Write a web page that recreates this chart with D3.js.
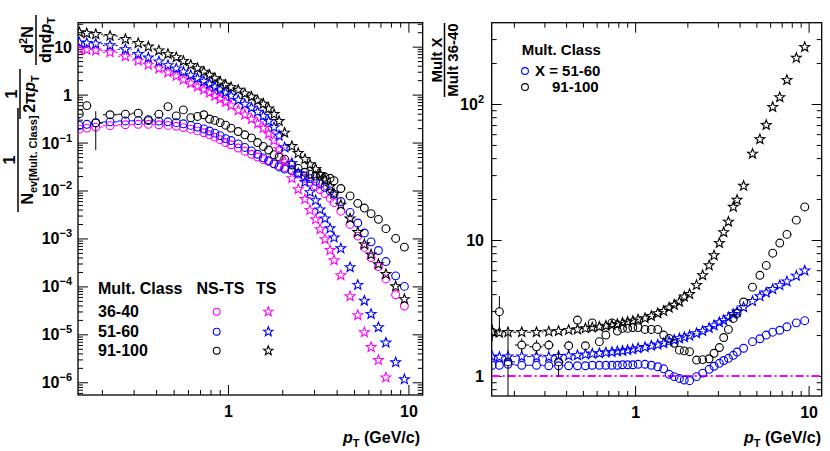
<!DOCTYPE html>
<html><head><meta charset="utf-8">
<script src="https://cdn.jsdelivr.net/npm/d3@7/dist/d3.min.js"></script>
<style>
html,body{margin:0;padding:0;background:#fff;}
svg{display:block;}
text{font-family:"Liberation Sans",Arial,Helvetica,sans-serif;font-weight:bold;fill:#000;}
</style></head><body>
<svg id="chart" width="830" height="451"></svg>
<script>
// ---------- data ----------
const pT = [0.15,0.165,0.185,0.222,0.27,0.318,0.362,0.414,0.465,0.517,0.566,0.622,0.678,0.735,0.79,0.846,0.905,0.97,1.04,1.14,1.24,1.35,1.46,1.57,1.68,1.8,1.92,2.06,2.26,2.45,2.67,2.85,3.06,3.24,3.45,3.68,3.87,4.22,4.75,5.24,5.7,6.21,6.82,7.5,8.5,9.5];

// left panel: spectra
const tsMult36_40 = [8.8,8.6,8.3,7.6,6.3,5.1,4.2,3.5,2.9,2.45,2.05,1.72,1.47,1.27,1.09,0.94,0.81,0.70,0.59,0.47,0.38,0.31,0.25,0.2,0.152,0.11,0.072,0.04,0.018,0.0106,6.6e-3,3.9e-3,2.5e-3,1.55e-3,9.6e-4,5.7e-4,3.5e-4,1.7e-4,6.2e-5,2.5e-5,1.1e-5,5.4e-6,2.9e-6,1.26e-6,null,null];
const tsMult51_60 = [12.2,11.9,11.5,10.6,8.8,7.0,5.9,4.9,4.1,3.5,3.0,2.53,2.19,1.9,1.66,1.44,1.26,1.1,0.94,0.77,0.63,0.53,0.435,0.358,0.28,0.208,0.139,0.079,0.037,0.0227,0.0149,9.2e-3,6.2e-3,4.0e-3,2.6e-3,1.62e-3,1.04e-3,6.2e-4,2.5e-4,1.07e-4,5e-5,2.65e-5,1.4e-5,6.7e-6,2.6e-6,1.15e-6];
const tsMult91_100 = [20,19,18.2,16.7,14.3,11.8,10,8.3,7.0,6.0,5.0,4.15,3.54,3.0,2.57,2.19,1.86,1.59,1.42,1.25,1.05,0.9,0.75,0.64,0.51,0.39,0.28,0.16,0.084,0.06,0.045,0.035,0.028,0.022,0.0168,0.012,8.5e-3,5e-3,2.6e-3,1.35e-3,7.5e-4,4.6e-4,2.9e-4,1.8e-4,1.0e-4,5.4e-5];
const nsMult36_40 = [0.19,0.2,0.21,0.225,0.235,0.24,0.24,0.235,0.228,0.218,0.205,0.19,0.175,0.16,0.145,0.13,0.115,0.1,0.09,0.077,0.066,0.057,0.05,0.044,0.04,0.036,0.033,0.03,0.026,0.022,0.018,0.015,0.0125,0.0105,8.6e-3,6.9e-3,5.6e-3,3.7e-3,1.96e-3,1.12e-3,6.5e-4,4.0e-4,2.6e-4,1.43e-4,6.7e-5,3.9e-5];
const nsMult51_60 = [0.228,0.24,0.256,0.27,0.282,0.286,0.286,0.28,0.271,0.26,0.246,0.228,0.21,0.192,0.174,0.157,0.139,0.121,0.11,0.094,0.079,0.067,0.057,0.048,0.042,0.036,0.031,0.028,0.026,0.023,0.02,0.0177,0.0155,0.0137,0.0116,9.8e-3,8.4e-3,5.9e-3,3.5e-3,2.1e-3,1.3e-3,8.5e-4,5.6e-4,3.3e-4,1.66e-4,1.0e-4];
const nsMult91_100 = [0.4,0.59,0.26,0.38,0.39,0.41,0.3,0.39,0.56,0.36,0.48,0.33,0.35,0.38,0.31,0.29,0.26,0.23,0.2,0.17,0.145,0.125,0.1,0.083,0.07,0.056,0.05,0.045,0.034,0.029,0.024,0.022,0.02,0.02,0.019,0.018,0.016,0.011,7.7e-3,5.4e-3,4.3e-3,3.3e-3,2.5e-3,1.6e-3,1.0e-3,6.6e-4];
const nsMult91_100Err = [0.08,0.1,0.19,0.05,0.05,0.04,0.05,0.04,0.04,0.03,0.03,0.02,0.02,0.02,0.01,0.01,0.01,0.01,0,0,0,0,0,0,0,0,0,0,0,0,0,0,0,0,0,0,0,0,0,0,0,0,0,0,0,0];

// right panel: ratios to multiplicity class 36-40
const ratioNS51_60 = [1.2,1.2,1.22,1.2,1.2,1.19,1.19,1.19,1.19,1.19,1.2,1.2,1.2,1.2,1.2,1.21,1.21,1.21,1.22,1.22,1.2,1.17,1.13,1.03,0.99,0.96,0.935,0.924,0.99,1.05,1.12,1.18,1.24,1.3,1.35,1.42,1.5,1.6,1.79,1.88,2.0,2.1,2.17,2.3,2.46,2.55];
const ratioTS51_60 = [1.39,1.38,1.39,1.39,1.39,1.38,1.4,1.41,1.42,1.44,1.46,1.47,1.49,1.5,1.52,1.53,1.55,1.57,1.6,1.63,1.67,1.7,1.74,1.79,1.84,1.89,1.93,1.98,2.06,2.14,2.25,2.35,2.48,2.57,2.7,2.85,2.97,3.2,3.55,3.85,4.1,4.35,4.65,4.95,5.45,5.95];
const ratioNS91_100 = [2.1,2.97,1.27,1.69,1.64,1.69,1.27,1.67,2.58,1.67,2.46,1.79,2.0,2.46,2.14,2.24,2.24,2.27,2.27,2.2,2.2,2.2,2.0,1.89,1.74,1.55,1.53,1.51,1.31,1.32,1.34,1.47,1.62,1.92,2.2,2.65,2.89,3.5,4.5,5.5,6.5,8,9.5,11,14,17.5];
const ratioNS91_100Err = [0.3,0.9,0.9,0.2,0.2,0.15,0.28,0.15,0.15,0.1,0.1,0.08,0.08,0.08,0.05,0.05,0.05,0.05,0,0,0,0,0,0,0,0,0,0,0,0,0,0,0,0,0,0,0,0,0,0,0,0,0,0,0,0];
const ratioTS91_100 = [2.12,2.08,2.1,2.1,2.1,2.12,2.14,2.18,2.2,2.24,2.27,2.3,2.34,2.37,2.41,2.46,2.5,2.54,2.6,2.66,2.76,2.89,3.0,3.18,3.33,3.51,3.83,4.0,4.66,5.5,6.5,7.7,9.5,11.4,13.6,17.5,19.7,25,43,55,70,95,112,150,218,262];
const ratioTS91_100Err = [0.15,0.1,0.08,0.05,0.05,0.05,0.05,0.05,0,0,0,0,0,0,0,0,0,0,0,0,0,0,0,0,0,0,0,0,0,0,0,0,0,0,0,0,0,0,0,0,0,0,0,0,0,0];

const classLabels = ["36-40","51-60","91-100"];
const colors = ["#ff00ff","#0000ff","#000000"];
const xTickLabels = ["1","10"];
const yTickExpLeft = [1,0,-1,-2,-3,-4,-5,-6];
const yTickExpRight = [0,1,2];

// ---------- layout ----------
const svg = d3.select("#chart");
const PL = {x0:78,x1:422.7,y0:22.7,y1:395};
const PR = {x0:491.7,x1:821.7,y0:22.7,y1:396};
const xL = d3.scaleLog().domain([0.1475,12]).range([PL.x0,PL.x1]);
const yL = d3.scaleLog().domain([5.43e-7,31.6]).range([PL.y1,PL.y0]);
const xR = d3.scaleLog().domain([0.149,11.9]).range([PR.x0,PR.x1]);
const yR = d3.scaleLog().domain([0.713,396]).range([PR.y1,PR.y0]);

function allLogTicks(dom){
  const out=[]; const lo=Math.floor(Math.log10(dom[0]))-1, hi=Math.ceil(Math.log10(dom[1]))+1;
  for(let e=lo;e<=hi;e++) for(let k=1;k<=9;k++){const v=+(k*Math.pow(10,e)).toPrecision(6); if(v>=dom[0]*1.0001 && v<=dom[1]*0.9999) out.push(v);}
  return out;
}
function isPow10(v){const l=Math.log10(v);return Math.abs(l-Math.round(l))<1e-6;}

function drawFrame(P, x, y, majLen, minLen){
  const g = svg.append("g");
  const xt = allLogTicks(x.domain()), yt = allLogTicks(y.domain());
  const xMaj = xt.filter(isPow10), xMin = xt.filter(v=>!isPow10(v));
  const yMaj = yt.filter(isPow10), yMin = yt.filter(v=>!isPow10(v));
  const ax = [
    [d3.axisBottom(x).tickValues(xMin).tickSizeInner(-minLen), `translate(0,${P.y1})`],
    [d3.axisBottom(x).tickValues(xMaj).tickSizeInner(-majLen), `translate(0,${P.y1})`],
    [d3.axisTop(x).tickValues(xMin).tickSizeInner(-minLen), `translate(0,${P.y0})`],
    [d3.axisTop(x).tickValues(xMaj).tickSizeInner(-majLen), `translate(0,${P.y0})`],
    [d3.axisLeft(y).tickValues(yMin).tickSizeInner(-minLen), `translate(${P.x0},0)`],
    [d3.axisLeft(y).tickValues(yMaj).tickSizeInner(-majLen), `translate(${P.x0},0)`],
    [d3.axisRight(y).tickValues(yMin).tickSizeInner(-minLen), `translate(${P.x1},0)`],
    [d3.axisRight(y).tickValues(yMaj).tickSizeInner(-majLen), `translate(${P.x1},0)`]
  ];
  ax.forEach(([a,t])=>{
    const s=g.append("g").attr("transform",t).call(a.tickSizeOuter(0).tickFormat(""));
    s.select(".domain").remove();
    s.selectAll("line").attr("stroke","#000").attr("stroke-width",1);
  });
  g.append("rect").attr("x",P.x0).attr("y",P.y0).attr("width",P.x1-P.x0).attr("height",P.y1-P.y0)
    .attr("fill","none").attr("stroke","#000").attr("stroke-width",1.3);
}

drawFrame(PL,xL,yL,10,5);
drawFrame(PR,xR,yR,10,5);

// tick labels
function xLabels(P,x){
  const g=svg.append("g").attr("transform",`translate(0,${P.y1})`)
    .call(d3.axisBottom(x).tickValues([1,10]).tickSize(0).tickPadding(11).tickFormat((d,i)=>xTickLabels[i]));
  g.select(".domain").remove();
  g.selectAll("text").style("font-size","16px").style("font-family",'"Liberation Sans",Arial,sans-serif').style("font-weight","bold").attr("fill","#000");
}
xLabels(PL,xL); xLabels(PR,xR);

function yLabels(P,y,exps,xEnd){
  exps.forEach(e=>{
    const v=Math.pow(10,e), py=y(v);
    const t=svg.append("text").attr("x",xEnd).attr("y",py+6).attr("text-anchor","end").style("font-size","16px");
    if(e===0){t.text("1");}
    else if(e===1){t.text("10");}
    else {
      t.append("tspan").text("10");
      t.append("tspan").attr("dy",-7).style("font-size","11px").text(e<0?("\u2212"+(-e)):String(e));
    }
  });
}
yLabels(PL,yL,yTickExpLeft,72);
yLabels(PR,yR,yTickExpRight,484);

// ---------- markers ----------
function starPath(R){const r=R*0.42;let p="";for(let i=0;i<10;i++){const a=-Math.PI/2+i*Math.PI/5;const rad=i%2?r:R;p+=(i?"L":"M")+(rad*Math.cos(a)).toFixed(2)+","+(rad*Math.sin(a)).toFixed(2);}return p+"Z";}

function clipFor(P,id){
  svg.append("clipPath").attr("id",id).append("rect").attr("x",P.x0).attr("y",P.y0).attr("width",P.x1-P.x0).attr("height",P.y1-P.y0);
}
clipFor(PL,"clipL"); clipFor(PR,"clipR");
const gL=svg.append("g").attr("clip-path","url(#clipL)");
const gR=svg.append("g").attr("clip-path","url(#clipR)");

function drawSeries(g,x,y,xs,ys,errs,color,shape){
  const Rm = shape==="star"?5.2:3.9;
  const dom=y.domain();
  const pts = xs.map((px,i)=>({px,v:ys[i],e:errs?errs[i]:0,i})).filter(d=>d.v!=null);
  const s=g.append("g");
  pts.forEach(d=>{
    const i=d.i;
    const lo = i>0? Math.sqrt(xs[i-1]*xs[i]) : xs[0]*xs[0]/Math.sqrt(xs[0]*xs[1]);
    const hi = i<xs.length-1? Math.sqrt(xs[i]*xs[i+1]) : xs[i]*xs[i]/Math.sqrt(xs[i-1]*xs[i]);
    const cx=x(d.px), cy=y(d.v);
    const xl=x(lo), xh=x(hi);
    if(cx-Rm>xl) s.append("line").attr("x1",xl).attr("x2",cx-Rm).attr("y1",cy).attr("y2",cy).attr("stroke",color).attr("stroke-width",1);
    if(xh>cx+Rm) s.append("line").attr("x1",cx+Rm).attr("x2",xh).attr("y1",cy).attr("y2",cy).attr("stroke",color).attr("stroke-width",1);
    if(d.e>0){
      const yt=y(d.v+d.e), yb=y(Math.max(d.v-d.e,dom[0]*0.5));
      if(yt<cy-Rm) s.append("line").attr("x1",cx).attr("x2",cx).attr("y1",yt).attr("y2",cy-Rm).attr("stroke",color).attr("stroke-width",1);
      if(yb>cy+Rm) s.append("line").attr("x1",cx).attr("x2",cx).attr("y1",cy+Rm).attr("y2",yb).attr("stroke",color).attr("stroke-width",1);
    }
  });
  if(shape==="star"){
    s.selectAll("path.m").data(pts).join("path").attr("class","m").attr("d",starPath(Rm))
      .attr("transform",d=>`translate(${x(d.px)},${y(d.v)})`).attr("fill","none").attr("stroke",color).attr("stroke-width",1.1);
  } else {
    s.selectAll("circle.m").data(pts).join("circle").attr("class","m").attr("r",Rm)
      .attr("cx",d=>x(d.px)).attr("cy",d=>y(d.v)).attr("fill","none").attr("stroke",color).attr("stroke-width",1.1);
  }
}

// left panel
drawSeries(gL,xL,yL,pT,nsMult36_40,null,colors[0],"circle");
drawSeries(gL,xL,yL,pT,nsMult51_60,null,colors[1],"circle");
drawSeries(gL,xL,yL,pT,nsMult91_100,nsMult91_100Err,colors[2],"circle");
drawSeries(gL,xL,yL,pT,tsMult36_40,null,colors[0],"star");
drawSeries(gL,xL,yL,pT,tsMult51_60,null,colors[1],"star");
drawSeries(gL,xL,yL,pT,tsMult91_100,null,colors[2],"star");

// right panel
gR.append("line").attr("x1",PR.x0).attr("x2",PR.x1).attr("y1",yR(1)).attr("y2",yR(1))
  .attr("stroke","#ff00ff").attr("stroke-width",1.8).attr("stroke-dasharray","8,3,2,3");
drawSeries(gR,xR,yR,pT,ratioNS51_60,null,colors[1],"circle");
drawSeries(gR,xR,yR,pT,ratioTS51_60,null,colors[1],"star");
drawSeries(gR,xR,yR,pT,ratioNS91_100,ratioNS91_100Err,colors[2],"circle");
drawSeries(gR,xR,yR,pT,ratioTS91_100,ratioTS91_100Err,colors[2],"star");

// ---------- legends ----------
const lg=svg.append("g");
lg.append("text").attr("x",98).attr("y",294).style("font-size","16px").text("Mult. Class");
lg.append("text").attr("x",196.5).attr("y",294).style("font-size","16px").text("NS-TS");
lg.append("text").attr("x",256).attr("y",294).style("font-size","16px").text("TS");
const rowsY=[311.7,331.7,350.7];
classLabels.forEach((c,i)=>{
  lg.append("text").attr("x",98).attr("y",rowsY[i]+5.5).style("font-size","16px").text(c);
  lg.append("circle").attr("cx",216.7).attr("cy",rowsY[i]).attr("r",3.4).attr("fill","none").attr("stroke",colors[i]).attr("stroke-width",1.1);
  lg.append("path").attr("d",starPath(5)).attr("transform",`translate(268.3,${rowsY[i]})`).attr("fill","none").attr("stroke",colors[i]).attr("stroke-width",1.1);
});
const rg=svg.append("g");
rg.append("text").attr("x",521.7).attr("y",55).style("font-size","15px").text("Mult. Class");
rg.append("circle").attr("cx",525).attr("cy",71).attr("r",3.4).attr("fill","none").attr("stroke",colors[1]).attr("stroke-width",1.1);
rg.append("text").attr("x",535).attr("y",76).style("font-size","15px").text("X = "+classLabels[1]);
rg.append("circle").attr("cx",525).attr("cy",87).attr("r",3.4).attr("fill","none").attr("stroke",colors[2]).attr("stroke-width",1.1);
rg.append("text").attr("x",552).attr("y",92).style("font-size","15px").text(classLabels[2]);

// ---------- axis titles ----------
function xTitle(xEnd){
  const t=svg.append("text").attr("x",xEnd).attr("y",443).attr("text-anchor","end").style("font-size","16px");
  t.append("tspan").style("font-style","italic").text("p");
  t.append("tspan").attr("dy",4).style("font-size","11px").text("T");
  t.append("tspan").attr("dy",-4).text(" (GeV/c)");
}
xTitle(420); xTitle(821);

// left y title (rotated, three fractions)
const yt=svg.append("g").attr("transform","rotate(-90)");
function frac(cu, barV, len, num, den){
  yt.append("line").attr("x1",cu-len/2).attr("x2",cu+len/2).attr("y1",barV).attr("y2",barV).attr("stroke","#000").attr("stroke-width",1.5);
  num(yt.append("text").attr("x",cu).attr("y",barV-3).attr("text-anchor","middle").style("font-size","16px"));
  den(yt.append("text").attr("x",cu).attr("y",barV+15).attr("text-anchor","middle").style("font-size","16px"));
}
frac(-160,18,104,t=>t.text("1"),t=>{t.append("tspan").text("N");t.append("tspan").attr("dy",4).style("font-size","11px").text("ev[Mult. Class]");});
frac(-94,20,50,t=>t.text("1"),t=>{t.append("tspan").text("2\u03C0");t.append("tspan").style("font-style","italic").text("p");t.append("tspan").attr("dy",4).style("font-size","11px").text("T");});
frac(-40,36,50,t=>{t.append("tspan").text("d");t.append("tspan").attr("dy",-6).style("font-size","11px").text("2");t.append("tspan").attr("dy",6).text("N");},
  t=>{t.append("tspan").text("d\u03B7d");t.append("tspan").style("font-style","italic").text("p");t.append("tspan").attr("dy",4).style("font-size","11px").text("T");});

// right y title
const yr=svg.append("g").attr("transform","rotate(-90)");
yr.append("line").attr("x1",-97).attr("x2",-23).attr("y1",444.5).attr("y2",444.5).attr("stroke","#000").attr("stroke-width",1.5);
yr.append("text").attr("x",-60).attr("y",442).attr("text-anchor","middle").style("font-size","15px").text("Mult X");
yr.append("text").attr("x",-60).attr("y",457.5).attr("text-anchor","middle").style("font-size","15px").text("Mult 36-40");
</script>
</body></html>
